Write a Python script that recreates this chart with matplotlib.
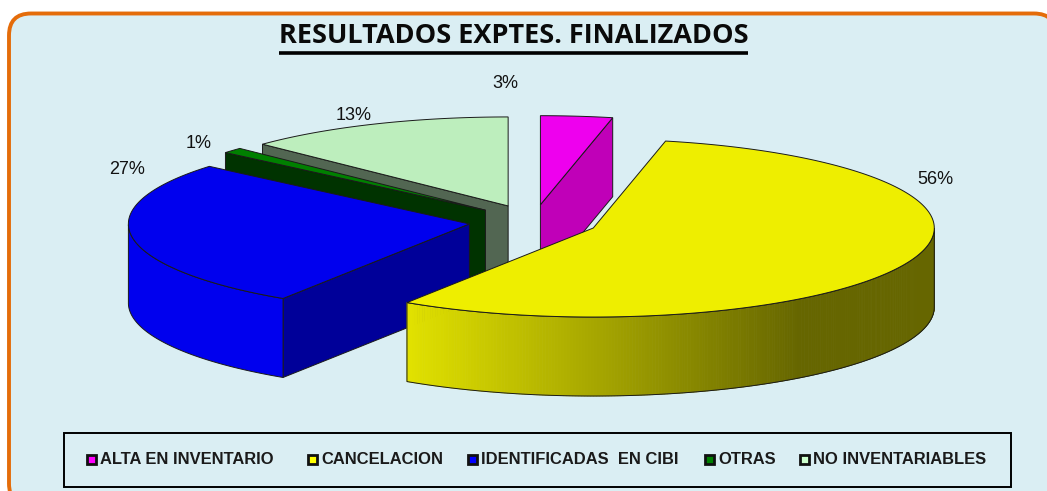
import numpy as np
import matplotlib
matplotlib.use("Agg")
import matplotlib.pyplot as plt
from matplotlib.patches import FancyBboxPatch, Polygon, Rectangle

# --- data -------------------------------------------------------------
categories = ["ALTA EN INVENTARIO", "CANCELACION", "IDENTIFICADAS  EN CIBI", "OTRAS", "NO INVENTARIABLES"]
values = [3.4, 55.8, 27.0, 1.0, 12.8]
top_colors = ["#ee00ee", "#eeee00", "#0000ee", "#008000", "#bdeebd"]
face_colors = ["#c000b8", "#666600", "#000099", "#003300", "#526652"]
legend_colors = ["#ff00ff", "#ffff00", "#0000ff", "#008000", "#ccffcc"]
title = "RESULTADOS EXPTES. FINALIZADOS"

# --- layout -----------------------------------------------------------
W, H = 1047, 491
CX, CY, RX, RY = 533.5, 221.5, 341, 89
EXPLODE = 0.19
DEPTH = 79
draw_order = [0, 4, 3, 2, 1]
label_pos = [(505, 83), (935, 180), (127, 170), (199, 143), (354, 115)]
legend_swatch_x = [91, 312, 472, 709, 804]
legend_text_x = [100, 321, 481, 718, 813]
BG = "#daeef3"
EDGE = "#1a1a1a"

fig = plt.figure(figsize=(W / 100, H / 100), dpi=100, facecolor="white")
ax = fig.add_axes([0, 0, 1, 1])
ax.set_xlim(0, W)
ax.set_ylim(H, 0)
ax.axis("off")

# frame
ax.add_patch(FancyBboxPatch((9, 13.5), 1047, 492, boxstyle="round,pad=0,rounding_size=22",
                            fc=BG, ec="#e46c0a", lw=2.8, zorder=0))

# title
ax.text(513.5, 36, title, family="Open Sans", weight="bold", fontsize=19.5,
        ha="center", va="center", color="#0a0a0a", zorder=10)
ax.plot([279, 748], [53, 53], color="black", lw=2.6, solid_capstyle="butt", zorder=10)


def rim(cx, cy, t):
    return cx + RX * np.sin(t), cy - RY * np.cos(t)


def shade(color, s):
    rgb = np.array(matplotlib.colors.to_rgb(color))
    f = np.interp(s, [-0.55, 0.6], [0.95, 0.43])
    return tuple(rgb * f)


edges = np.radians(np.concatenate([[0], np.cumsum(values)]) * 3.6)
z = 1
for i in draw_order:
    t0, t1 = edges[i], edges[i + 1]
    mid = (t0 + t1) / 2
    cx = CX + EXPLODE * RX * np.sin(mid)
    cy = CY - EXPLODE * RY * np.cos(mid)
    ts = np.linspace(t0, t1, max(int(np.degrees(t1 - t0) * 2), 3))
    xs, ys = rim(cx, cy, ts)

    # radial faces
    for t, visible in ((t0, np.sin(t0) < -1e-6), (t1, np.sin(t1) > 1e-6)):
        if visible:
            x, y = rim(cx, cy, t)
            ax.add_patch(Polygon([(cx, cy), (x, y), (x, y + DEPTH), (cx, cy + DEPTH)],
                                 fc=face_colors[i], ec=EDGE, lw=0.7, zorder=z))
            z += 1

    # outer side, only the part facing the viewer
    mask = np.cos(ts) <= 0
    if mask.sum() > 1:
        xa, ya = xs[mask], ys[mask]
        ta = ts[mask]
        outline = np.vstack([np.c_[xa, ya], np.c_[xa[::-1], ya[::-1] + DEPTH]])
        if i == 1:
            for k in range(len(xa) - 1):
                col = shade(top_colors[i], np.sin((ta[k] + ta[k + 1]) / 2))
                ax.add_patch(Polygon([(xa[k], ya[k]), (xa[k + 1], ya[k + 1]),
                                      (xa[k + 1], ya[k + 1] + DEPTH), (xa[k], ya[k] + DEPTH)],
                                     fc=col, ec=col, lw=0.6, zorder=z))
            z += 1
            ax.add_patch(Polygon(outline, closed=True, fc="none", ec=EDGE, lw=0.7, zorder=z))
        else:
            ax.add_patch(Polygon(outline, closed=True, fc=top_colors[i], ec=EDGE, lw=0.7, zorder=z))
        z += 1

    # top face
    ax.add_patch(Polygon(np.vstack([[cx, cy], np.c_[xs, ys]]), closed=True,
                         fc=top_colors[i], ec=EDGE, lw=0.7, joinstyle="miter", zorder=z))
    z += 1

# data labels
for v, (x, y) in zip(values, label_pos):
    ax.text(x, y, f"{round(v)}%", family="Liberation Sans", fontsize=13, ha="center",
            va="center", color="#111111", zorder=z)

# legend
ax.add_patch(Rectangle((64, 433), 947, 54, fc=BG, ec="black", lw=1.4, zorder=z))
for name, col, sx, tx in zip(categories, legend_colors, legend_swatch_x, legend_text_x):
    ax.add_patch(Rectangle((sx - 4.5, 455), 9, 9, fc=col, ec="#111111", lw=2, zorder=z + 1))
    ax.text(tx, 459.5, name, family="Liberation Sans", weight="bold", fontsize=11.9,
            ha="left", va="center", color="#1a1a1a", zorder=z + 1)

fig.savefig("out.png", dpi=100, facecolor="white")
